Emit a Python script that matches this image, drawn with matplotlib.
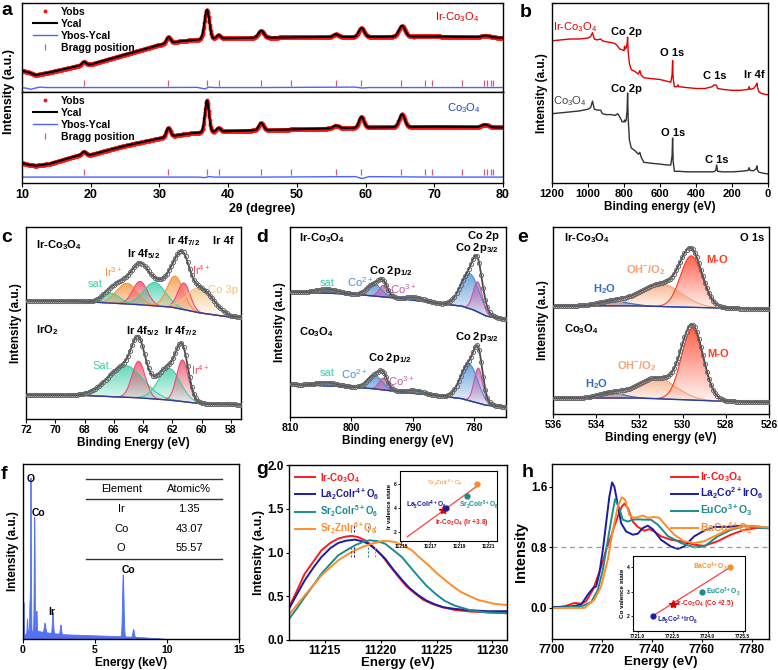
import numpy as np
import matplotlib
matplotlib.use("Agg")
import matplotlib.pyplot as plt
from matplotlib.colors import to_rgb

plt.rcParams['font.family'] = ['Liberation Sans', 'DejaVu Sans']
plt.rcParams['font.weight'] = 'bold'
plt.rcParams['axes.labelweight'] = 'bold'
plt.rcParams['mathtext.default'] = 'regular'
plt.rcParams['axes.linewidth'] = 1.0
plt.rcParams['xtick.major.size'] = 3
plt.rcParams['ytick.major.size'] = 3

# ---------------- data ----------------
# a: XRD refinement (intensity scaled to each sub-panel, 0..1)
a_bg_x = [10, 11, 12, 14, 18, 20, 25, 30, 33, 35, 40, 50, 60, 70, 80]
a_top_bg = [0.24, 0.22, 0.19, 0.22, 0.29, 0.31, 0.42, 0.53, 0.57, 0.585, 0.605, 0.615, 0.62, 0.625, 0.61]
a_bot_bg = [0.22, 0.20, 0.19, 0.21, 0.30, 0.31, 0.41, 0.49, 0.53, 0.55, 0.57, 0.59, 0.61, 0.62, 0.61]
a_top_peaks = [(19.0, .04, .3), (31.3, .07, .3), (36.9, .33, .35), (38.6, .04, .3), (44.8, .08, .4),
               (55.7, .03, .4), (59.4, .10, .4), (65.3, .12, .45), (77.5, .02, .6)]
a_bot_peaks = [(19.0, .04, .3), (31.3, .10, .3), (36.9, .35, .3), (38.6, .04, .3), (44.8, .08, .35),
               (55.7, .03, .4), (59.4, .12, .35), (65.3, .14, .4), (77.4, .03, .5)]
a_res_x = [10, 10.8, 11.3, 12.0, 12.6, 13.5, 20, 30, 35.5, 36.6, 37.2, 38, 45, 58.5, 59.5, 60.5, 70, 80]
a_top_res = [0.05, 0.04, 0.03, 0.045, 0.055, 0.05, 0.05, 0.05, 0.052, 0.035, 0.055, 0.05, 0.05, 0.055, 0.045, 0.05, 0.05, 0.05]
a_bot_res = [0.065, 0.065, 0.065, 0.065, 0.065, 0.065, 0.065, 0.065, 0.065, 0.06, 0.07, 0.065, 0.065, 0.07, 0.05, 0.07, 0.065, 0.065]
bragg = [19.0, 31.3, 36.9, 38.6, 44.8, 49.1, 55.7, 59.4, 65.2, 68.6, 69.7, 74.1, 77.3, 77.6, 78.3, 78.6]

# b: XPS survey
b_x = [1200, 1150, 1100, 1050, 1000, 985, 975, 965, 950, 930, 920, 900, 870, 850, 835, 825, 810, 800, 797,
       793, 788, 783, 780, 777, 770, 760, 740, 720, 712, 705, 690, 650, 600, 560, 540, 533, 530, 527, 520,
       505, 500, 495, 450, 400, 350, 310, 300, 290, 285, 280, 250, 200, 150, 110, 105, 100, 80, 65, 62,
       58, 50, 30, 0]
b_ir = [.79, .795, .80, .80, .805, .815, .835, .80, .795, .80, .79, .785, .78, .775, .76, .745, .74, .735, .76,
        .745, .75, .77, .81, .73, .665, .63, .62, .605, .625, .60, .585, .58, .575, .565, .56, .60, .68, .58,
        .535, .535, .545, .535, .53, .525, .525, .535, .545, .545, .54, .525, .52, .515, .515, .52, .535,
        .52, .525, .545, .555, .53, .505, .495, .49]
b_co = [.385, .39, .395, .40, .41, .42, .455, .41, .405, .405, .385, .38, .38, .375, .385, .37, .34, .34, .35,
        .34, .35, .40, .50, .36, .24, .195, .18, .16, .17, .145, .115, .11, .105, .10, .10, .15, .25, .12,
        .065, .065, .065, .065, .062, .062, .062, .062, .063, .07, .10, .065, .062, .062, .065, .07, .085,
        .07, .068, .08, .095, .07, .06, .055, .05]

# c: Ir 4f (baseline points, peaks = centre, height, width)
c_base_x = [57.3, 58, 60, 62, 64, 68, 72]
c_top_base = [306, 306, 318, 336, 343, 353, 356]
c_bot_base = [43, 44, 46, 56, 63, 71, 73]
c_top_peaks = [(66.2, 30, 0.6), (65.1, 62, 0.7), (64.2, 70, 0.5), (63.2, 70, 0.75),
               (61.8, 95, 0.55), (61.2, 80, 0.42), (60.1, 75, 0.9)]
c_bot_peaks = [(65.2, 95, 1.2), (64.3, 110, 0.45), (62.2, 95, 0.75), (61.3, 125, 0.4)]

# d: Co 2p
d_base_x = [774.8, 778, 780, 782, 785, 788, 792, 796, 800, 810]
d_top_base = [292, 302, 320, 332, 338, 345, 355, 362, 368, 375]
d_bot_base = [30, 35, 45, 55, 62, 67, 75, 84, 90, 98]
d_top_peaks = [(804, 12, 1.8), (796.3, 36, 1.2), (794.8, 34, 0.7), (789.5, 9, 1.5), (780.7, 105, 1.5), (779.4, 90, 0.75)]
d_bot_peaks = [(804, 10, 1.8), (796.2, 40, 1.2), (794.8, 35, 0.7), (789.5, 9, 1.5), (780.8, 110, 1.4), (779.3, 105, 0.7)]

# e: O 1s
e_base_x = [526, 528, 530, 532, 536]
e_top_base = [315, 318, 321, 325, 325]
e_bot_base = [35, 38, 43, 48, 48]
e_top_peaks = [(533.2, 14, 0.7), (531.0, 68, 0.95), (529.6, 155, 0.5)]
e_bot_peaks = [(533.3, 15, 0.6), (531.2, 62, 0.9), (529.55, 215, 0.5)]

# f: EDS
f_bg_x = [0, 0.15, 0.4, 1.0, 1.3, 2.0, 3.0, 5.0, 6.5, 8.0, 9.5, 10.0, 15.0]
f_bg_y = [0, 15, 22, 25, 22, 18, 14, 11, 9, 6, 2, 0, 0]
f_peaks = [(0.03, 108, 0.02), (0.28, 43, 0.025), (0.45, 80, 0.02), (0.52, 463, 0.025), (0.78, 343, 0.03),
           (0.93, 60, 0.025), (1.5, 28, 0.05), (2.05, 63, 0.04), (2.6, 28, 0.04), (6.93, 186, 0.05), (7.65, 23, 0.05)]
f_elements = ['Ir', 'Co', 'O']
f_atomic = ['1.35', '43.07', '55.57']

# g: Ir L3-edge XANES
g_names = ['Ir-Co$_3$O$_4$', 'La$_2$CoIr$^{4+}$O$_6$', 'Sr$_2$CoIr$^{5+}$O$_6$', 'Sr$_2$ZnIr$^{6+}$O$_6$']
g_x = [[11211.8, 11212.5, 11213.2, 11214.0, 11214.7, 11215.5, 11216.2, 11216.8, 11217.4, 11218.0, 11218.6,
        11219.3, 11220.1, 11220.8, 11221.6, 11222.3, 11223.1, 11223.8, 11224.6, 11225.5, 11226.6, 11228,
        11229.6, 11231.3],
       [11211.8, 11212.5, 11213.2, 11214.0, 11214.7, 11215.5, 11216.2, 11216.9, 11217.7, 11218.3, 11218.9,
        11219.6, 11220.4, 11221.1, 11221.9, 11222.6, 11223.4, 11224.1, 11224.9, 11225.6, 11226.6, 11228,
        11229.6, 11231.3],
       [11211.8, 11212.5, 11213.2, 11214.0, 11214.7, 11215.5, 11216.2, 11217.0, 11217.7, 11218.4, 11219.0,
        11219.7, 11220.4, 11221.1, 11221.9, 11222.6, 11223.4, 11224.1, 11224.9, 11225.7, 11226.6, 11228.1,
        11229.5, 11231.3],
       [11211.8, 11212.5, 11213.2, 11214.0, 11214.7, 11215.5, 11216.2, 11217.0, 11217.7, 11218.4, 11219.2,
        11220.1, 11220.7, 11221.3, 11222.0, 11222.8, 11223.5, 11224.3, 11225.0, 11225.8, 11226.5, 11227.2,
        11228.0, 11228.7, 11230.2, 11231.3]]
g_y = [[.375, .56, .757, .90, 1.025, 1.11, 1.159, 1.18, 1.19, 1.175, 1.14, 1.07, .967, .85, .72, .615, .528,
        .46, .413, .375, .344, .325, .317, .306],
       [.356, .52, .68, .83, .948, 1.05, 1.109, 1.135, 1.147, 1.13, 1.10, 1.03, .93, .81, .688, .59, .509,
        .45, .405, .375, .356, .34, .329, .329],
       [.24, .36, .49, .63, .757, .87, .967, 1.03, 1.082, 1.12, 1.14, 1.13, 1.10, 1.03, .948, .84, .72, .62,
        .528, .45, .394, .337, .315, .306],
       [.29, .40, .509, .63, .738, .83, .91, .975, 1.025, 1.065, 1.10, 1.13, 1.13, 1.12, 1.08, 1.025, .94,
        .853, .765, .68, .61, .547, .50, .459, .413, .40]]
g_edge = [11217.35, 11217.65, 11218.9, 11219.5]
g_inset_x = [11217.9, 11218.1, 11219.55, 11220.2]
g_inset_v = [3.8, 4.0, 5.0, 6.0]
g_fit_x = [11215.4, 11220.4]
g_fit_y = [1.6, 6.0]

# h: Co K-edge XANES
h_names = ['Ir-Co$_3$O$_4$', 'La$_2$Co$^{2+}$IrO$_6$', 'EuCo$^{3+}$O$_3$', 'BaCo$^{4+}$O$_3$']
h_x = [[7700, 7705, 7709, 7711.7, 7713.7, 7716.4, 7718.4, 7720, 7721.7, 7723.7, 7725, 7726.4, 7728, 7729,
        7730.4, 7732.4, 7734.4, 7737, 7739, 7741, 7743.7, 7747.7, 7751.7, 7757, 7761, 7766.4, 7771.7, 7777,
        7782.4, 7787],
       [7700, 7707.7, 7711.7, 7714.4, 7716.4, 7717.7, 7719, 7720.4, 7721.7, 7723, 7724.1, 7725, 7726.4,
        7727.7, 7729.7, 7732.4, 7734.4, 7736.4, 7738.4, 7740.4, 7743.7, 7747.7, 7750.4, 7753, 7757, 7761,
        7765, 7770.4, 7777, 7783.7, 7787],
       [7700, 7711.7, 7715.7, 7718.4, 7720.4, 7722.4, 7724, 7725.3, 7726.7, 7728.4, 7730.4, 7732.4, 7734.4,
        7737, 7739.7, 7742.4, 7746.4, 7751.7, 7757, 7761, 7766.4, 7771.7, 7777, 7783.7, 7787],
       [7700, 7713, 7717, 7719.7, 7722.4, 7724.4, 7726.4, 7728, 7729.3, 7731, 7732.4, 7734.4, 7736.4,
        7738.4, 7741, 7743, 7745.7, 7749, 7753, 7757, 7761, 7765, 7770.4, 7777, 7783.7, 7787]]
h_y = [[0, .02, .066, .057, .088, .24, .42, .57, .77, .945, 1.08, 1.21, 1.34, 1.376, 1.32, 1.14, 1.07, 1.02,
        1.04, 1.01, .945, .90, .88, .835, .82, .88, .967, 1.03, 1.055, 1.055],
       [.01, .02, .044, .176, .26, .285, .46, .77, 1.12, 1.47, 1.657, 1.60, 1.36, 1.12, 1.01, .967, .98,
        1.055, 1.086, 1.04, .90, .81, .78, .81, .945, 1.02, 1.07, 1.07, 1.086, 1.07, 1.055],
       [0, .02, .075, .24, .505, .90, 1.21, 1.437, 1.34, 1.165, 1.14, 1.165, 1.17, 1.165, 1.165, 1.10, .95,
        .857, .80, .81, .945, 1.03, 1.08, 1.055, 1.05],
       [0, 0, .11, .285, .64, 1.03, 1.34, 1.46, 1.43, 1.23, 1.19, 1.20, 1.22, 1.19, 1.20, 1.19, 1.086, .967,
        .88, .857, .88, .945, 1.03, 1.086, 1.07, 1.06]]
h_inset_x = [7722.5, 7721.65, 7723.75, 7724.97]
h_inset_v = [2.5, 2.0, 3.0, 4.0]

# ---------------- helpers ----------------
fig = plt.figure(figsize=(7.78, 6.70), dpi=100)
W, H = 778.0, 670.0


def add_ax(l, t, r, b):
    return fig.add_axes([l / W, 1 - b / H, (r - l) / W, (b - t) / H])


def gauss(x, c, h, s):
    return h * np.exp(-(x - c) ** 2 / (2 * s * s))


def grad_fill(ax, x, lo, hi, color):
    poly = ax.fill_between(x, lo, hi, facecolor='none', edgecolor='none')
    img = np.zeros((64, 1, 4))
    img[:, 0, :3] = to_rgb(color)
    img[:, 0, 3] = np.linspace(0.05, 0.8, 64)
    im = ax.imshow(img, aspect='auto', origin='lower', interpolation='bilinear',
                   extent=[x.min(), x.max(), lo.min(), hi.max()], zorder=2)
    im.set_clip_path(poly.get_paths()[0], ax.transData)


def xps(ax, x, base_x, base_y, peaks, colors, step=4):
    base = np.interp(x, base_x, base_y)
    comps = [gauss(x, *p) for p in peaks]
    env = base + np.sum(comps, axis=0)
    for comp, col in zip(comps, colors):
        grad_fill(ax, x, base, base + comp, col)
        ax.plot(x, base + comp, color=col, lw=0.8, zorder=3)
    ax.plot(x, base, color='#2c3f9e', lw=1.0, zorder=3)
    ax.plot(x, env, color='#4a4a4a', lw=1.3, zorder=4)
    ax.plot(x[::step], env[::step], 'o', mfc='none', mec='#6a6a6a', ms=3, mew=0.7, zorder=4)


def letter(x, y, s):
    fig.text(x / W, 1 - y / H, s, fontsize=14, fontweight='bold', va='top', ha='left')


def colour_legend(ax, loc, fs, hl, tp):
    leg = ax.legend(loc=loc, frameon=False, fontsize=fs, handlelength=hl, labelspacing=0.15,
                    borderaxespad=0.2, handletextpad=tp)
    for t, c in zip(leg.get_texts(), GC):
        t.set_color(c)


# ---------------- a ----------------
xg = np.linspace(10, 80, 1400)
ax_at = add_ax(22, 3, 503, 92)
ax_ab = add_ax(22, 92, 503, 183)
for ax, bgy, pk, res, ty, name, col, pos in [
        (ax_at, a_top_bg, a_top_peaks, a_top_res, 0.105, 'Ir-Co$_3$O$_4$', '#e00000', (0.904, 0.84)),
        (ax_ab, a_bot_bg, a_bot_peaks, a_bot_res, 0.125, 'Co$_3$O$_4$', '#2040d0', (0.919, 0.82))]:
    y = np.interp(xg, a_bg_x, bgy) + np.sum([gauss(xg, *p) for p in pk], axis=0)
    ax.plot(xg, y, 'o', color='#ff1010', ms=2.8, mec='none', label='Yobs')
    ax.plot(xg, y, color='black', lw=1.5, label='Ycal')
    ax.plot(a_res_x, res, color='#4a64ff', lw=1.0, label='Ybos-Ycal')
    ax.plot(bragg, [ty] * len(bragg), '|', color='#d05a80', ms=5, mew=0.9, label='Bragg position')
    ax.set_xlim(10, 80)
    ax.set_ylim(0, 1)
    ax.set_yticks([])
    ax.legend(loc='upper left', bbox_to_anchor=(0.01, 1.03), frameon=False, fontsize=7.5,
              handlelength=2.3, labelspacing=0.2, borderaxespad=0.2, handletextpad=0.4)
    ax.text(pos[0], pos[1], name, color=col, fontsize=8, fontweight='normal', ha='center',
            va='center', transform=ax.transAxes)
ax_at.tick_params(bottom=False, labelbottom=False)
ax_ab.set_xticks(range(10, 81, 10))
ax_ab.tick_params(labelsize=9, pad=1.5)
ax_ab.set_xlabel('2θ (degree)', fontsize=9, labelpad=1)
fig.text(9 / W, 1 - 92 / H, 'Intensity (a.u.)', rotation=90, fontsize=9, fontweight='bold',
         va='center', ha='center')
letter(1, 2, 'a')

# ---------------- b ----------------
ax = add_ax(552, 3, 768, 183)
ax.plot(b_x, b_ir, color='#e00000', lw=1.0)
ax.plot(b_x, b_co, color='#333333', lw=1.0)
ax.set_xlim(1200, 0)
ax.set_ylim(0, 1)
ax.set_yticks([])
ax.set_xticks(range(1200, -1, -200))
ax.tick_params(labelsize=8, pad=1.5)
ax.set_xlabel('Binding energy (eV)', fontsize=8.5, labelpad=1)
ax.set_ylabel('Intensity (a.u.)', fontsize=8.5, labelpad=3)
ax.text(1195, 0.865, 'Ir-Co$_3$O$_4$', color='#e00000', fontsize=8, fontweight='normal', va='center')
ax.text(1195, 0.455, 'Co$_3$O$_4$', color='#444444', fontsize=8, fontweight='normal', va='center')
for xx, yy, s in [(785, .84, 'Co 2p'), (532, .72, 'O 1s'), (295, .595, 'C 1s'), (74, .60, 'Ir 4f'),
                  (785, .52, 'Co 2p'), (526, .28, 'O 1s'), (286, .13, 'C 1s')]:
    ax.text(xx, yy, s, fontsize=8, ha='center', va='center')
letter(520, 4, 'b')

# ---------------- c ----------------
TEAL, ORG, PINK, BEIGE = '#3ccfa8', '#f7923a', '#ef4d6a', '#f2c27a'
ax = add_ax(26, 227, 241, 419)
xc = np.linspace(57.3, 72, 420)
xps(ax, xc, c_base_x, c_top_base, c_top_peaks, [TEAL, ORG, PINK, TEAL, ORG, PINK, BEIGE])
xps(ax, xc, c_base_x, c_bot_base, c_bot_peaks, [TEAL, PINK, TEAL, PINK])
ax.set_xlim(72, 57.3)
ax.set_ylim(0, 577)
ax.set_yticks([])
ax.set_xticks(range(72, 57, -2))
ax.tick_params(labelsize=7.5, pad=1.5)
ax.set_xlabel('Binding Energy (eV)', fontsize=8.5, labelpad=1)
ax.set_ylabel('Intensity (a.u.)', fontsize=8.5, labelpad=3)
for xx, yy, s in [(71.3, 523, 'Ir-Co$_3$O$_4$'), (71.3, 268, 'IrO$_2$')]:
    ax.text(xx, yy, s, fontsize=8, ha='left', va='center')
for xx, yy, s, col in [(63.95, 496, 'Ir 4f$_{5/2}$', 'k'), (61.25, 536, 'Ir 4f$_{7/2}$', 'k'),
                       (58.5, 536, 'Ir 4f', 'k'), (66.0, 440, 'Ir$^{3+}$', ORG),
                       (60.0, 446, 'Ir$^{4+}$', PINK), (67.3, 406, 'sat', TEAL), (58.5, 388, 'Co 3p', BEIGE),
                       (64.05, 265, 'Ir 4f$_{5/2}$', 'k'), (61.45, 265, 'Ir 4f$_{7/2}$', 'k'),
                       (66.8, 160, 'Sat.', TEAL), (60.07, 148, 'Ir$^{4+}$', PINK)]:
    ax.text(xx, yy, s, fontsize=8, ha='center', va='center', color=col,
            fontweight='bold' if col == 'k' else 'normal')
letter(1, 229, 'c')

# ---------------- d ----------------
CO2, CO3 = '#4a8fd4', '#c45aa6'
ax = add_ax(290, 227, 506, 417)
xd = np.linspace(774.8, 810, 420)
xps(ax, xd, d_base_x, d_top_base, d_top_peaks, [TEAL, CO2, CO3, TEAL, CO2, CO3])
xps(ax, xd, d_base_x, d_bot_base, d_bot_peaks, [TEAL, CO2, CO3, TEAL, CO2, CO3])
ax.set_xlim(810, 774.8)
ax.set_ylim(0, 569)
ax.set_yticks([])
ax.set_xticks(range(810, 774, -10))
ax.tick_params(labelsize=7.5, pad=1.5)
ax.set_xlabel('Binding energy (eV)', fontsize=8.5, labelpad=1)
ax.set_ylabel('Intensity (a.u.)', fontsize=8.5, labelpad=3)
for xx, yy, s in [(808.6, 535, 'Ir-Co$_3$O$_4$'), (808.6, 255, 'Co$_3$O$_4$')]:
    ax.text(xx, yy, s, fontsize=8, ha='left', va='center')
for xx, yy, s, col in [(778.4, 542, 'Co 2p', 'k'), (779.5, 505, 'Co 2p$_{3/2}$', 'k'),
                       (793.5, 437, 'Co 2p$_{1/2}$', 'k'), (798.6, 405, 'Co$^{2+}$', CO2),
                       (791.6, 382, 'Co$^{3+}$', CO3), (803.9, 400, 'sat', TEAL),
                       (779.6, 240, 'Co 2p$_{3/2}$', 'k'), (793.8, 178, 'Co 2p$_{1/2}$', 'k'),
                       (803.9, 132, 'sat', TEAL), (799.5, 128, 'Co$^{2+}$', CO2), (791.9, 108, 'Co$^{3+}$', CO3)]:
    ax.text(xx, yy, s, fontsize=8, ha='center', va='center', color=col,
            fontweight='bold' if col == 'k' else 'normal')
letter(256, 229, 'd')

# ---------------- e ----------------
H2O, OH, MO = '#2f6fc0', '#f7a273', '#ff3b1f'
ax = add_ax(553, 227, 769, 414)
xe = np.linspace(526, 536, 420)
xps(ax, xe, e_base_x, e_top_base, e_top_peaks, [H2O, OH, MO])
xps(ax, xe, e_base_x, e_bot_base, e_bot_peaks, [H2O, OH, MO])
ax.set_xlim(536, 526)
ax.set_ylim(0, 562)
ax.set_yticks([])
ax.set_xticks(range(536, 525, -2))
ax.tick_params(labelsize=7.5, pad=1.5)
ax.set_xlabel('Binding energy (eV)', fontsize=8.5, labelpad=1)
ax.set_ylabel('Intensity (a.u.)', fontsize=8.5, labelpad=3)
for xx, yy, s in [(535.5, 528, 'Ir-Co$_3$O$_4$'), (535.5, 255, 'Co$_3$O$_4$')]:
    ax.text(xx, yy, s, fontsize=8, ha='left', va='center')
ax.text(526.8, 528, 'O 1s', fontsize=8, ha='center', va='center')
for xx, yy, s, col in [(531.7, 433, 'OH$^{-}$/O$_2$', OH), (533.6, 375, 'H$_2$O', H2O), (528.4, 463, 'M-O', MO),
                       (532.1, 145, 'OH$^{-}$/O$_2$', OH), (534.0, 91, 'H$_2$O', H2O), (528.35, 181, 'M-O', MO)]:
    ax.text(xx, yy, s, fontsize=8, ha='center', va='center', color=col)
letter(517, 229, 'e')

# ---------------- f ----------------
ax = add_ax(23, 464, 239, 639)
xf = np.linspace(0, 15, 3000)
yf = np.interp(xf, f_bg_x, f_bg_y) + np.sum([gauss(xf, *p) for p in f_peaks], axis=0)
ax.fill_between(xf, 0, yf, color='#5272f2', lw=0.6)
ax.set_xlim(0, 15)
ax.set_ylim(0, 526)
ax.set_yticks([])
ax.set_xticks([0, 5, 10, 15])
ax.tick_params(labelsize=7.5, pad=1.5)
ax.set_xlabel('Energy (keV)', fontsize=8.5, labelpad=1)
ax.set_ylabel('Intensity (a.u.)', fontsize=8.5, labelpad=3)
for xx, yy, s in [(0.51, 480, 'O'), (1.1, 378, 'Co'), (2.03, 80, 'Ir'), (7.3, 208, 'Co')]:
    ax.text(xx, yy, s, fontsize=7.5, ha='center', va='center')
for yy in [0.913, 0.798, 0.458]:
    ax.plot([0.29, 0.923], [yy, yy], color='#333333', lw=1.0, transform=ax.transAxes)
ax.text(0.455, 0.857, 'Element', fontsize=8, fontweight='normal', ha='center', va='center', transform=ax.transAxes)
ax.text(0.77, 0.857, 'Atomic%', fontsize=8, fontweight='normal', ha='center', va='center', transform=ax.transAxes)
for i, (el, at) in enumerate(zip(f_elements, f_atomic)):
    yy = 0.743 - i * 0.112
    ax.text(0.455, yy, el, fontsize=8, fontweight='normal', ha='center', va='center', transform=ax.transAxes)
    ax.text(0.77, yy, at, fontsize=8, fontweight='normal', ha='center', va='center', transform=ax.transAxes)
letter(1, 466, 'f')

# ---------------- g ----------------
GC = ['#ff1a1a', '#1c1ca0', '#1a8c8c', '#ff8c2a']
ax = add_ax(289, 465, 507, 640)
for xs, ys, c, n in zip(g_x, g_y, GC, g_names):
    ax.plot(xs, ys, color=c, lw=1.4, label=n)
for xx, c in zip(g_edge, GC):
    ax.plot([xx, xx], [1.24, 1.31], ls=(0, (2, 1.5)), color=c, lw=0.8)
    ax.plot([xx, xx], [0.95, 1.06], ls=(0, (2, 1.5)), color=c, lw=0.8)
ax.set_xlim(11211.8, 11231.3)
ax.set_ylim(0, 2.0)
ax.set_xticks([11215, 11220, 11225, 11230])
ax.set_yticks([0, 0.5, 1.0, 1.5, 2.0])
ax.set_yticklabels(['0.0', '0.5', '1.0', '1.5', '2.0'])
ax.tick_params(labelsize=8.5, pad=1, length=2.5)
ax.set_xlabel('Energy (eV)', fontsize=9.5, labelpad=0)
ax.set_ylabel('Intensity (a.u.)', fontsize=9, labelpad=2)
colour_legend(ax, 'upper left', 7, 2.1, 0.5)
letter(256, 461, 'g')

ins = add_ax(400, 471, 497, 541)
ins.plot(g_fit_x, g_fit_y, color='#ff4040', lw=0.9)
ins.plot(g_inset_x[0], g_inset_v[0], '*', color='#e00000', ms=6)
ins.plot(g_inset_x[1], g_inset_v[1], 'o', color=GC[1], ms=3.5)
ins.plot(g_inset_x[2], g_inset_v[2], 'o', color=GC[2], ms=3.5)
ins.plot(g_inset_x[3], g_inset_v[3], 'o', color=GC[3], ms=3.5)
ins.set_xlim(11214.9, 11221.6)
ins.set_ylim(1.25, 7.1)
ins.set_xticks([11215, 11217, 11219, 11221])
ins.set_yticks([2, 4, 6])
ins.tick_params(labelsize=3.5, length=1.5, pad=1, width=0.6)
ins.set_ylabel('Ir valence state', fontsize=4.5, labelpad=1)
for sp in ins.spines.values():
    sp.set_linewidth(0.8)
ins.text(11218.0, 6.1, 'Sr$_2$ZnIr$^{6+}$O$_6$', color=GC[3], fontsize=4.5, fontweight='normal', ha='center', va='center')
ins.text(11215.3, 4.3, 'La$_2$CoIr$^{4+}$O$_6$', color=GC[1], fontsize=4.8, ha='left', va='center')
ins.text(11219.0, 4.3, 'Sr$_2$CoIr$^{5+}$O$_6$', color=GC[2], fontsize=4.8, ha='left', va='center')
ins.text(11217.3, 2.8, 'Ir-Co$_3$O$_4$ (Ir +3.8)', color='#e02020', fontsize=4.8, ha='left', va='center')

# ---------------- h ----------------
ax = add_ax(552, 464, 769, 639)
for xs, ys, c, n in zip(h_x, h_y, GC, h_names):
    ax.plot(xs, ys, color=c, lw=1.4, label=n)
ax.axhline(0.8, color='#9a9aae', ls=(0, (4, 3)), lw=0.9)
ax.set_xlim(7700, 7787)
ax.set_ylim(-0.41, 1.9)
ax.set_xticks(range(7700, 7781, 20))
ax.set_yticks([0.0, 0.8, 1.6])
ax.tick_params(labelsize=8.5, pad=1, length=2.5)
ax.set_xlabel('Energy (eV)', fontsize=9.5, labelpad=0)
ax.set_ylabel('Intensity', fontsize=10.5, labelpad=2)
colour_legend(ax, 'upper right', 7.5, 2.6, 0.2)
letter(522, 464, 'h')

ins = add_ax(633, 556, 745, 631)
ins.plot([h_inset_x[1], h_inset_x[3]], [h_inset_v[1], h_inset_v[3]], color='#ff4040', lw=0.9)
ins.plot(h_inset_x[0], h_inset_v[0], '*', color='#e00000', ms=6)
ins.plot(h_inset_x[1], h_inset_v[1], 'o', color=GC[1], ms=3.5)
ins.plot(h_inset_x[2], h_inset_v[2], 'o', color=GC[2], ms=3.5)
ins.plot(h_inset_x[3], h_inset_v[3], 'o', color=GC[3], ms=3.5)
ins.set_xlim(7720.8, 7725.6)
ins.set_ylim(1.38, 4.46)
ins.set_xticks([7721.0, 7722.5, 7724.0, 7725.5])
ins.set_xticklabels(['7721.0', '7722.5', '7724.0', '7725.5'])
ins.set_yticks([2, 3, 4])
ins.tick_params(labelsize=3.5, length=1.5, pad=1, width=0.6)
ins.set_ylabel('Co valence state', fontsize=4.5, labelpad=1)
for sp in ins.spines.values():
    sp.set_linewidth(0.8)
ins.text(7724.95, 4.0, 'BaCo$^{4+}$O$_3$  ', color=GC[3], fontsize=4.8, ha='right', va='center')
ins.text(7723.95, 3.0, 'EuCo$^{3+}$O$_3$', color=GC[2], fontsize=4.8, ha='left', va='center')
ins.text(7722.65, 2.5, 'Ir-Co$_3$O$_4$ (Co +2.5)', color='#e02020', fontsize=4.8, ha='left', va='center')
ins.text(7721.85, 1.85, 'La$_2$Co$^{2+}$IrO$_6$', color=GC[1], fontsize=4.8, ha='left', va='center')

fig.savefig('out.png', dpi=100)
